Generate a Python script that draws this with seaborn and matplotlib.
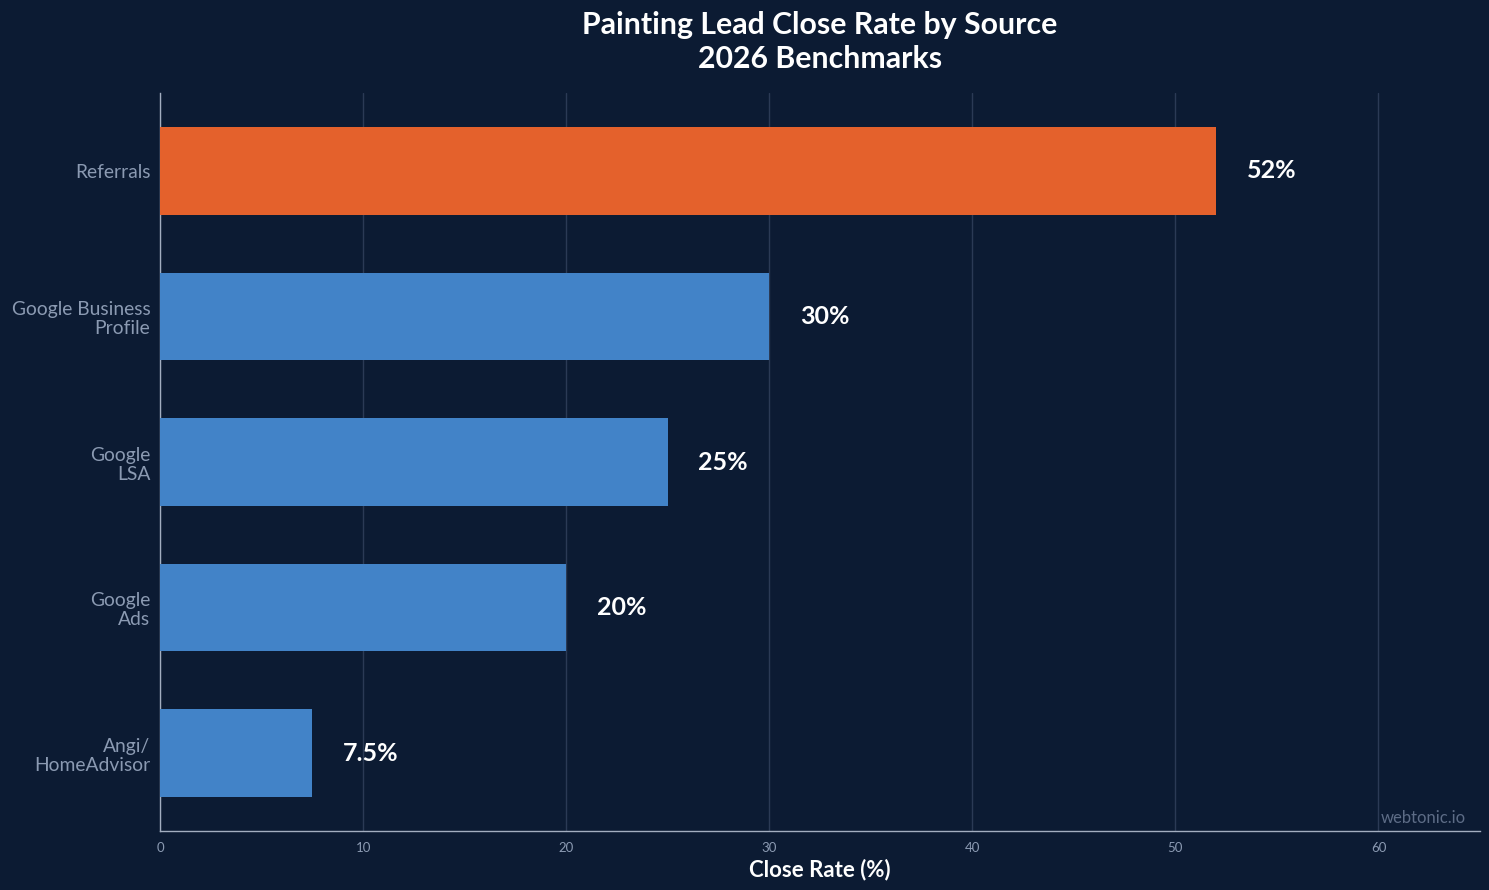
import matplotlib
matplotlib.use("Agg")
import matplotlib.pyplot as plt
import seaborn as sns
import pandas as pd

sources = ["Referrals", "Google Business\nProfile", "Google\nLSA", "Google\nAds", "Angi/\nHomeAdvisor"]
close_rates = [52, 30, 25, 20, 7.5]
value_labels = ["52%", "30%", "25%", "20%", "7.5%"]
xticks = [0, 10, 20, 30, 40, 50, 60]

BG = "#0c1b33"
ORANGE = "#e4612c"
BLUE = "#4283c8"
TICK = "#8b9ab2"
GRID = "#2b3a55"
SPINE = "#a3aec0"

sns.set_theme(style="dark")
plt.rcParams["font.family"] = ["Lato", "DejaVu Sans"]

df = pd.DataFrame({"source": sources, "rate": close_rates})
palette = [ORANGE] + [BLUE] * (len(sources) - 1)

fig = plt.figure(figsize=(14.89, 8.90), dpi=100, facecolor=BG)
ax = fig.add_axes([160 / 1489, 1 - 831 / 890, (1480 - 160) / 1489, (831 - 93) / 890])
ax.set_facecolor(BG)

sns.barplot(data=df, x="rate", y="source", hue="source", palette=palette,
            orient="h", width=0.6, legend=False, ax=ax, saturation=1, zorder=3,
            linewidth=0, edgecolor="none")

for i, (v, lab) in enumerate(zip(close_rates, value_labels)):
    ax.text(v + 1.5, i, lab, va="center", ha="left", color="white",
            fontsize=18, fontweight="bold", zorder=4)

ax.set_xlim(0, 65)
ax.set_ylim(4.535, -0.535)
ax.set_xticks(xticks)
ax.set_xticklabels([str(t) for t in xticks])
ax.tick_params(axis="x", colors=TICK, labelsize=9.5, length=5, width=1, color=SPINE, pad=3)
ax.tick_params(axis="y", colors=TICK, labelsize=13.9, length=4, width=1, color=SPINE, pad=3)
for t in ax.get_yticklabels():
    t.set_color(TICK)
    t.set_linespacing(1.15)
for t in ax.get_xticklabels():
    t.set_color(TICK)

ax.grid(axis="x", color=GRID, linewidth=1, zorder=0)
ax.grid(axis="y", visible=False)
for s in ["top", "right"]:
    ax.spines[s].set_visible(False)
for s in ["left", "bottom"]:
    ax.spines[s].set_visible(True)
    ax.spines[s].set_color(SPINE)
    ax.spines[s].set_linewidth(1)

ax.set_ylabel("")
ax.set_xlabel("Close Rate (%)", color="white", fontsize=16, fontweight="bold", labelpad=3)
ax.set_title("Painting Lead Close Rate by Source\n2026 Benchmarks", color="white",
             fontsize=21.8, fontweight="bold", pad=18, linespacing=1.27)

fig.text(1466 / 1489, 1 - 818 / 890, "webtonic.io", ha="right", va="center",
         color="#5d6c86", fontsize=12)

fig.savefig("out.png", dpi=100, facecolor=BG)
